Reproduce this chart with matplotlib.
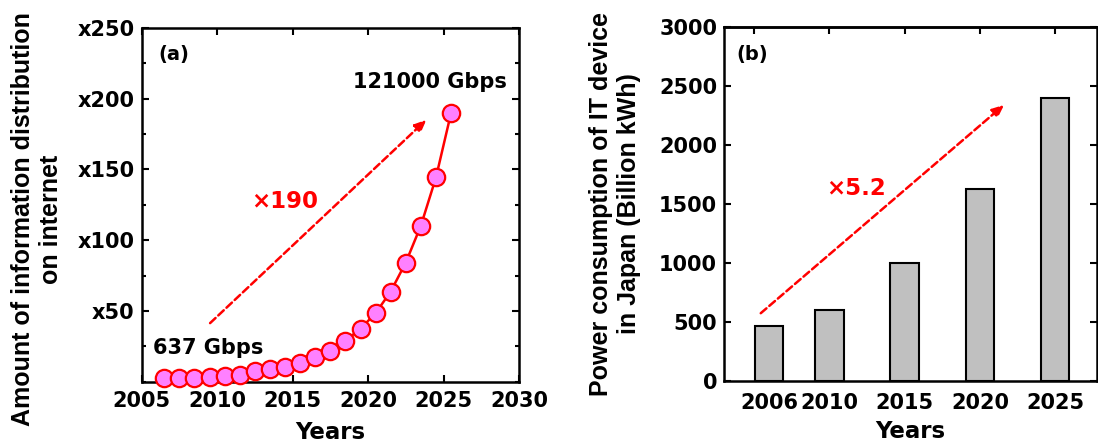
import numpy as np
import matplotlib
matplotlib.use("Agg")
import matplotlib.pyplot as plt
from matplotlib.ticker import MultipleLocator
from matplotlib.font_manager import FontProperties

plt.rcParams['font.family'] = ['DejaVu Sans']
plt.rcParams['font.weight'] = 'bold'
plt.rcParams['axes.labelweight'] = 'bold'

# (a) internet traffic, relative to 2006 (637 Gbps -> 121000 Gbps)
traffic_years = np.arange(2006, 2026)
traffic_ratio = [2.8, 2.8, 2.8, 3.5, 4.2, 4.7, 7.3, 8.7, 10.6, 13.4,
                 17.2, 21.6, 28.9, 37.4, 48.4, 63.7, 84.2, 110.3, 144.4, 190.0]
ratio_ticks = [50, 100, 150, 200, 250]
ratio_labels = ['x50', 'x100', 'x150', 'x200', 'x250']

# (b) power consumption of IT devices in Japan (billion kWh)
power_years = [2006, 2010, 2015, 2020, 2025]
power_kwh = [465, 602, 998, 1630, 2402]

RED = '#ff0000'
PINK = '#ff80ff'
ylab_font = FontProperties(family='Liberation Sans', weight='bold', size=18)

fig = plt.figure(figsize=(10.98, 4.47), dpi=100)
ax1 = fig.add_axes([0.129, 0.1463, 0.3437, 0.7911])
ax2 = fig.add_axes([0.6594, 0.1477, 0.3400, 0.7919])


def style_axes(ax):
    for sp in ax.spines.values():
        sp.set_linewidth(1.8)
    ax.tick_params(which='major', direction='in', length=5, width=1.5,
                   labelsize=15, pad=5)
    ax.tick_params(which='minor', direction='in', length=3, width=1.5)


# ---- panel (a) ----
style_axes(ax1)
ax1.plot(traffic_years + 0.5, traffic_ratio, '-o', color=RED, lw=1.8,
         ms=12.5, mfc=PINK, mec=RED, mew=1.6, clip_on=False, zorder=3)
ax1.set_xlim(2005, 2030)
ax1.set_ylim(0, 250)
ax1.xaxis.set_major_locator(MultipleLocator(5))
ax1.set_yticks(ratio_ticks, ratio_labels)
ax1.yaxis.set_minor_locator(MultipleLocator(25))
ax1.tick_params(which='both', top=True, right=True)
ax1.tick_params(axis='x', pad=7)
ax1.set_xlabel('Years', fontsize=16.5, labelpad=7)
ax1.set_ylabel('Amount of information distribution\non internet',
               fontproperties=ylab_font, linespacing=1.2)
ax1.yaxis.set_label_coords(-0.209, 0.46)

ax1.annotate('', xy=(2024.0, 186.5), xytext=(2009.4, 40),
             arrowprops=dict(arrowstyle='-|>,head_length=0.7,head_width=0.3',
                             color=RED, lw=1.8, linestyle=(0, (3, 1.5))))
ax1.text(2014.5, 127, '×190', color=RED, fontsize=16.5, ha='center', va='center')
ax1.text(2024.1, 211.5, '121000 Gbps', fontsize=15, ha='center', va='center')
ax1.text(2009.4, 23.5, '637 Gbps', fontsize=15, ha='center', va='center')
ax1.text(2007.1, 231, '(a)', fontsize=14, ha='center', va='center')

# ---- panel (b) ----
style_axes(ax2)
ax2.bar(power_years, power_kwh, width=1.9, color='#c0c0c0',
        edgecolor='black', linewidth=1.5)
ax2.set_xlim(2003, 2027.8)
ax2.set_ylim(0, 3000)
ax2.yaxis.set_major_locator(MultipleLocator(500))
ax2.set_xticks(power_years, [str(y) for y in power_years])
ax2.tick_params(axis='x', length=0, pad=9)
ax2.tick_params(axis='y', right=True)
top = ax2.secondary_xaxis('top')
top.set_xticks(np.arange(2005, 2030, 5))
top.tick_params(direction='in', length=5, width=1.5, labeltop=False)
top.spines['top'].set_linewidth(1.8)
ax2.set_xlabel('Years', fontsize=16.5, labelpad=5)
ax2.set_ylabel('Power consumption of IT device\nin Japan (Billion kWh)',
               fontproperties=ylab_font, linespacing=1.2)
ax2.yaxis.set_label_coords(-0.222, 0.5)

ax2.annotate('', xy=(2021.75, 2356), xytext=(2005.3, 559),
             arrowprops=dict(arrowstyle='-|>,head_length=0.7,head_width=0.3',
                             color=RED, lw=1.8, linestyle=(0, (3, 1.5))))
ax2.text(2011.75, 1635, '×5.2', color=RED, fontsize=16.5, ha='center', va='center')
ax2.text(2004.9, 2763, '(b)', fontsize=14, ha='center', va='center')

fig.savefig('out.png', dpi=100)
